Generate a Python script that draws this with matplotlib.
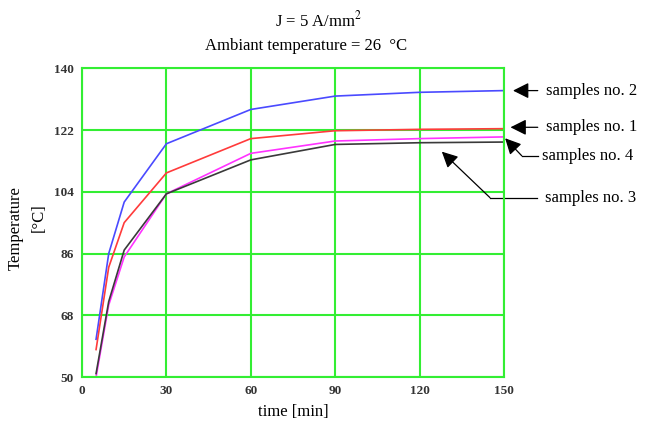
import numpy as np
import matplotlib
matplotlib.use('Agg')
import matplotlib.pyplot as plt

plt.rcParams['font.family'] = ['Liberation Serif', 'DejaVu Serif']

# time of the readings (min)
t = [5, 9.5, 15, 30, 60, 90, 120, 150]

# temperatures (deg C)
s2 = [61, 86, 101, 118, 128, 131.9, 133, 133.5]      # blue
s1 = [58, 82, 95, 109.5, 119.5, 121.8, 122.2, 122.4]  # red
s4 = [50, 71, 85, 103.4, 115.2, 118.8, 119.5, 120]    # magenta
s3 = [51, 72, 87, 103.4, 113.3, 117.8, 118.3, 118.5]  # black

xticks = [0, 30, 60, 90, 120, 150]
yticks = [50, 68, 86, 104, 122, 140]

fig = plt.figure(figsize=(6.55, 4.3), dpi=100)
ax = fig.add_axes([82/655, 1-377/430, 422/655, 308.7/430])

green = '#33ee33'
ax.plot(t, s2, color='#4a4aff', lw=1.2)
ax.plot(t, s1, color='#ff3b3b', lw=1.2)
ax.plot(t, s4, color='#ff33ff', lw=1.2)
ax.plot(t, s3, color='#3a3a3a', lw=1.2)

ax.set_xlim(0, 150)
ax.set_ylim(50, 140)
ax.set_xticks(xticks)
ax.set_yticks(yticks)
ax.grid(True, color=green, lw=1.5)
ax.set_axisbelow(True)
for sp in ax.spines.values():
    sp.set_color(green)
    sp.set_linewidth(1.5)
ax.tick_params(length=0, labelsize=9.5, pad=6)
for lab in ax.get_xticklabels() + ax.get_yticklabels():
    lab.set_fontweight('bold')
    lab.set_color('#333333')

ax.set_xlabel('time [min]', fontsize=12, labelpad=5)
fig.text(16/655, 1-228/430, 'Temperature', rotation=90, ha='center', va='center', fontsize=12)
fig.text(39/655, 1-218/430, '[°C]', rotation=90, ha='center', va='center', fontsize=12)

fig.text(318/655, 1-20/430, 'J = 5 A/mm$^2$', ha='center', va='center', fontsize=12,
         math_fontfamily='stix')
fig.text(306/655, 1-46/430, 'Ambiant temperature = 26  °C', ha='center', va='center', fontsize=12)

# labels with arrows at the right of the plot
arr = dict(arrowstyle='-|>,head_length=0.6,head_width=0.3', color='black', lw=0.9,
           mutation_scale=16, shrinkA=0, shrinkB=0)

ax.annotate('', xy=(153.2, 133.5), xytext=(162, 133.5), arrowprops=arr, annotation_clip=False)
ax.text(165, 133.5, 'samples no. 2', fontsize=12, va='center', clip_on=False)

ax.annotate('', xy=(152.3, 122.8), xytext=(162, 122.8), arrowprops=arr, annotation_clip=False)
ax.text(165, 122.8, 'samples no. 1', fontsize=12, va='center', clip_on=False)

ax.plot([162, 156.3], [114.5, 114.5], color='black', lw=0.9, clip_on=False)
ax.annotate('', xy=(150.4, 119.6), xytext=(156.3, 114.5), arrowprops=arr, annotation_clip=False)
ax.text(163.4, 114.5, 'samples no. 4', fontsize=12, va='center', clip_on=False)

ax.plot([161.6, 145], [102.3, 102.3], color='black', lw=0.9, clip_on=False)
ax.annotate('', xy=(127.9, 115.7), xytext=(145, 102.3), arrowprops=arr, annotation_clip=False)
ax.text(164.6, 102.3, 'samples no. 3', fontsize=12, va='center', clip_on=False)

fig.savefig('out.png', dpi=100)
